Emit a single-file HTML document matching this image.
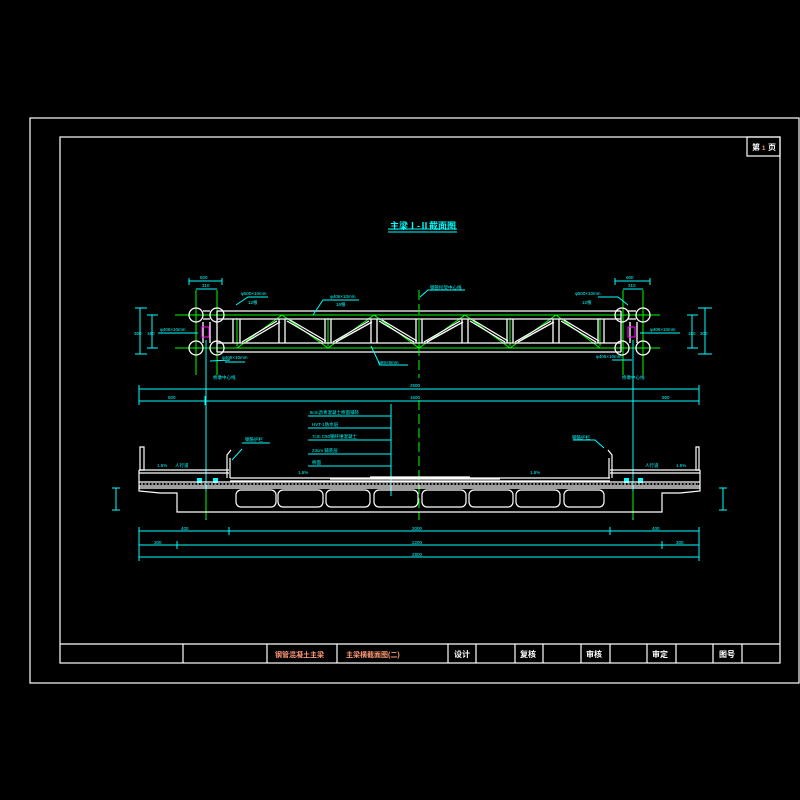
<!DOCTYPE html>
<html><head><meta charset="utf-8"><style>
html,body{margin:0;padding:0;background:#000;}
svg{display:block;}
text{font-family:"Liberation Sans","Noto Sans CJK SC",sans-serif;}
</style></head><body>
<svg width="800" height="800" viewBox="0 0 800 800" xmlns="http://www.w3.org/2000/svg">
<rect width="800" height="800" fill="#000"/>
<g fill="none" stroke="#fff" stroke-width="1.2">
<rect x="30" y="118" width="769" height="565"/>
<rect x="60" y="137" width="720" height="526"/>
<rect x="747" y="137" width="33" height="19"/>
<line x1="60" y1="644" x2="780" y2="644"/>
<path d="M183 644V663M267 644V663M337 644V663M448 644V663M476 644V663M515 644V663M543 644V663M581 644V663M610 644V663M647 644V663M676 644V663M713 644V663M742 644V663"/>
</g>
<g font-size="8" font-weight="bold">
<text x="752" y="150" fill="#fff">第</text><text x="762" y="150" fill="#ff9a7a" font-size="6">1</text><text x="768" y="150" fill="#fff">页</text>
<text x="275" y="657" fill="#ff9a7a" font-size="7">钢管混凝土主梁</text>
<text x="346" y="657" fill="#ff9a7a" font-size="7">主梁横截面图(二)</text>
<text x="454" y="657" fill="#fff">设计</text><text x="520" y="657" fill="#fff">复核</text>
<text x="586" y="657" fill="#fff">审核</text><text x="652" y="657" fill="#fff">审定</text>
<text x="719" y="657" fill="#fff">图号</text>
</g>
<text x="390" y="229" fill="#0ff" font-size="9" font-weight="bold">主梁Ⅰ-Ⅱ截面图</text>
<path d="M388 229H457M388 232H457" stroke="#0ff" stroke-width="1"/>

<!-- truss -->
<g stroke="#0f0" stroke-width="1" fill="none">
<line x1="175" y1="315" x2="660" y2="315"/><line x1="175" y1="348" x2="660" y2="348"/>
<polyline points="237,348 282,315 328,348 374,315 419,348 465,315 510,348 556,315 600,348"/>
<path d="M196 290V375M217 290V375M623 290V375M643 290V375"/>
<path d="M237 318V346M328 318V346M419 318V346M510 318V346M600 318V346"/>
</g>
<g stroke="#fff" stroke-width="1.3" fill="none">
<path d="M217 311H621M217 319H621M217 343H621M217 352H621"/>
<path d="M203 311H210M203 319H210M628 311H636M628 319H636"/>
<path d="M217 311V352M621 311V352M203 322V343M210 322V343M630 322V343M637 322V343"/>
<path d="M233 319V343M240 319V343M279 319V343M285 319V343M325 319V343M331 319V343M371 319V343M377 319V343M416 319V343M422 319V343M462 319V343M468 319V343M507 319V343M513 319V343M553 319V343M559 319V343M598 319V343M604 319V343"/>
<path d="M242 342L277 321M246 342L280 322M287 321L323 342M290 320L326 341M333 342L369 321M336 342L372 322M379 321L414 342M382 320L417 341M424 342L460 321M427 342L463 322M470 321L505 342M473 320L508 341M515 342L551 321M518 342L554 322M561 321L596 342M564 320L599 341"/>
<circle cx="196" cy="315" r="7"/><circle cx="217" cy="315" r="7"/><circle cx="196" cy="348" r="7"/><circle cx="217" cy="348" r="7"/>
<circle cx="622" cy="315" r="7"/><circle cx="643" cy="315" r="7"/><circle cx="622" cy="348" r="7"/><circle cx="643" cy="348" r="7"/>
</g>
<rect x="202" y="327" width="7" height="10" fill="none" stroke="#f0f" stroke-width="1"/>
<rect x="628" y="327" width="7" height="10" fill="none" stroke="#f0f" stroke-width="1"/>
<g stroke="#0ff" stroke-width="1" fill="none">
<path d="M189 281H222M196 289H217M189 278V285M222 278V285M615 281H650M623 289H643M615 278V285M650 278V285"/>
<path d="M140 308V354M135 308H147M135 354H147M152 315V348M147 315H158M147 348H158"/>
<path d="M705 308V354M698 308H712M698 354H712M692 315V348M687 315H698M687 348H698"/>
<path d="M236 305L248 297H268M313 315L323 300H359M420 297L428 290H465M371 346L380 365H408M628 305L618 297H598"/>
<path d="M158 333H198M225 362H245M210 361L230 360M612 360H632M640 333H680"/>
<path d="M206 340V520M633 340V520"/>
<path d="M139 389H699M139 401H699M139 385V405M699 385V405M205 396V405M633 396V405"/>
<path d="M139 531H699M139 545H699M139 557H699M229 527V535M610 527V535M177 541V549M662 541V549M139 527V561M699 527V561"/>
<path d="M308 416H391M308 428H391M308 440H391M308 454H391M308 466H391M391 404V496"/>
<path d="M242 449L232 460M242 443H270M604 448L595 440H573"/>
<path d="M116 488V510M112 488H120M112 510H120M723 488V510M719 488H727M719 510H727"/>
</g>
<line x1="419" y1="290" x2="419" y2="378" stroke="#0f0" stroke-dasharray="10,4"/>
<line x1="419" y1="400" x2="419" y2="520" stroke="#0f0" stroke-dasharray="10,4"/>
<path d="M206 491V518M633 491V518" stroke="#0f0"/>
<g fill="#0ff" font-size="4.5">
<text x="200" y="279">600</text><text x="202" y="287">310</text><text x="626" y="279">600</text><text x="628" y="287">310</text>
<text x="241" y="295">φ500×10mm</text><text x="248" y="304">12根</text>
<text x="330" y="298">φ406×10mm</text><text x="336" y="306">16根</text>
<text x="430" y="289">钢管桁架中心线</text>
<text x="378" y="364">φ89×8mm</text>
<text x="575" y="295">φ500×10mm</text><text x="582" y="304">12根</text>
<text x="160" y="331">φ406×10mm</text><text x="222" y="359">φ406×10mm</text>
<text x="650" y="331">φ406×10mm</text><text x="596" y="358">φ406×10mm</text>
<text x="213" y="379">桥墩中心线</text><text x="622" y="379">桥墩中心线</text>
<text x="134" y="335">300</text><text x="147" y="335">160</text><text x="700" y="335">300</text><text x="688" y="335">160</text>
<text x="410" y="387">2500</text><text x="410" y="399">1600</text><text x="168" y="399">500</text><text x="662" y="399">500</text>
<text x="310" y="414">8cm沥青混凝土桥面铺装</text><text x="312" y="426">HVT-1防水层</text>
<text x="312" y="438">7cm C50钢纤维混凝土</text><text x="312" y="452">23cm 铺装层</text><text x="312" y="464">桥面</text>
<text x="245" y="441">钢筋护栏</text><text x="572" y="439">钢筋护栏</text>
<text x="157" y="467">1.5%</text><text x="175" y="467">人行道</text><text x="645" y="467">人行道</text><text x="676" y="467">1.5%</text>
<text x="298" y="474">1.5%</text><text x="530" y="474">1.5%</text>
<text x="181" y="530">400</text><text x="412" y="530">2000</text><text x="652" y="530">400</text>
<text x="154" y="544">300</text><text x="412" y="544">2200</text><text x="676" y="544">300</text>
<text x="412" y="556">2800</text>
</g>
<rect x="197" y="478" width="5" height="5" fill="#0ff"/><rect x="213" y="478" width="5" height="5" fill="#0ff"/>
<rect x="624" y="478" width="5" height="5" fill="#0ff"/><rect x="638" y="478" width="5" height="5" fill="#0ff"/>

<!-- deck -->
<g stroke="#fff" stroke-width="1.2" fill="none">
<path d="M140 447V470H144V447Z M696 447V470H699V447Z"/>
<path d="M139 470H229M139 473H229M610 470H700M610 473H700"/>
<path d="M139 470V491L160 493H177V512H662V493H680L700 491V470"/>
<path d="M227 478V455L231 450M230 478V458M612 478V455L608 450M609 478V458"/>
<path d="M230 478H610M230 481H610M139 482H700M139 486H700M139 488H700"/>
<path d="M370 477H470M330 479H500"/>
<rect x="236" y="490" width="40" height="17" rx="5"/><rect x="278" y="490" width="45" height="17" rx="5"/>
<rect x="326" y="490" width="44" height="17" rx="5"/><rect x="374" y="490" width="44" height="17" rx="5"/>
<rect x="422" y="490" width="44" height="17" rx="5"/><rect x="469" y="490" width="44" height="17" rx="5"/>
<rect x="516" y="490" width="44" height="17" rx="5"/><rect x="564" y="490" width="40" height="17" rx="5"/>
</g>
<path d="M141 484H698" stroke="#fff" stroke-width="1" stroke-dasharray="2,1.5"/>
</svg>
</body></html>
